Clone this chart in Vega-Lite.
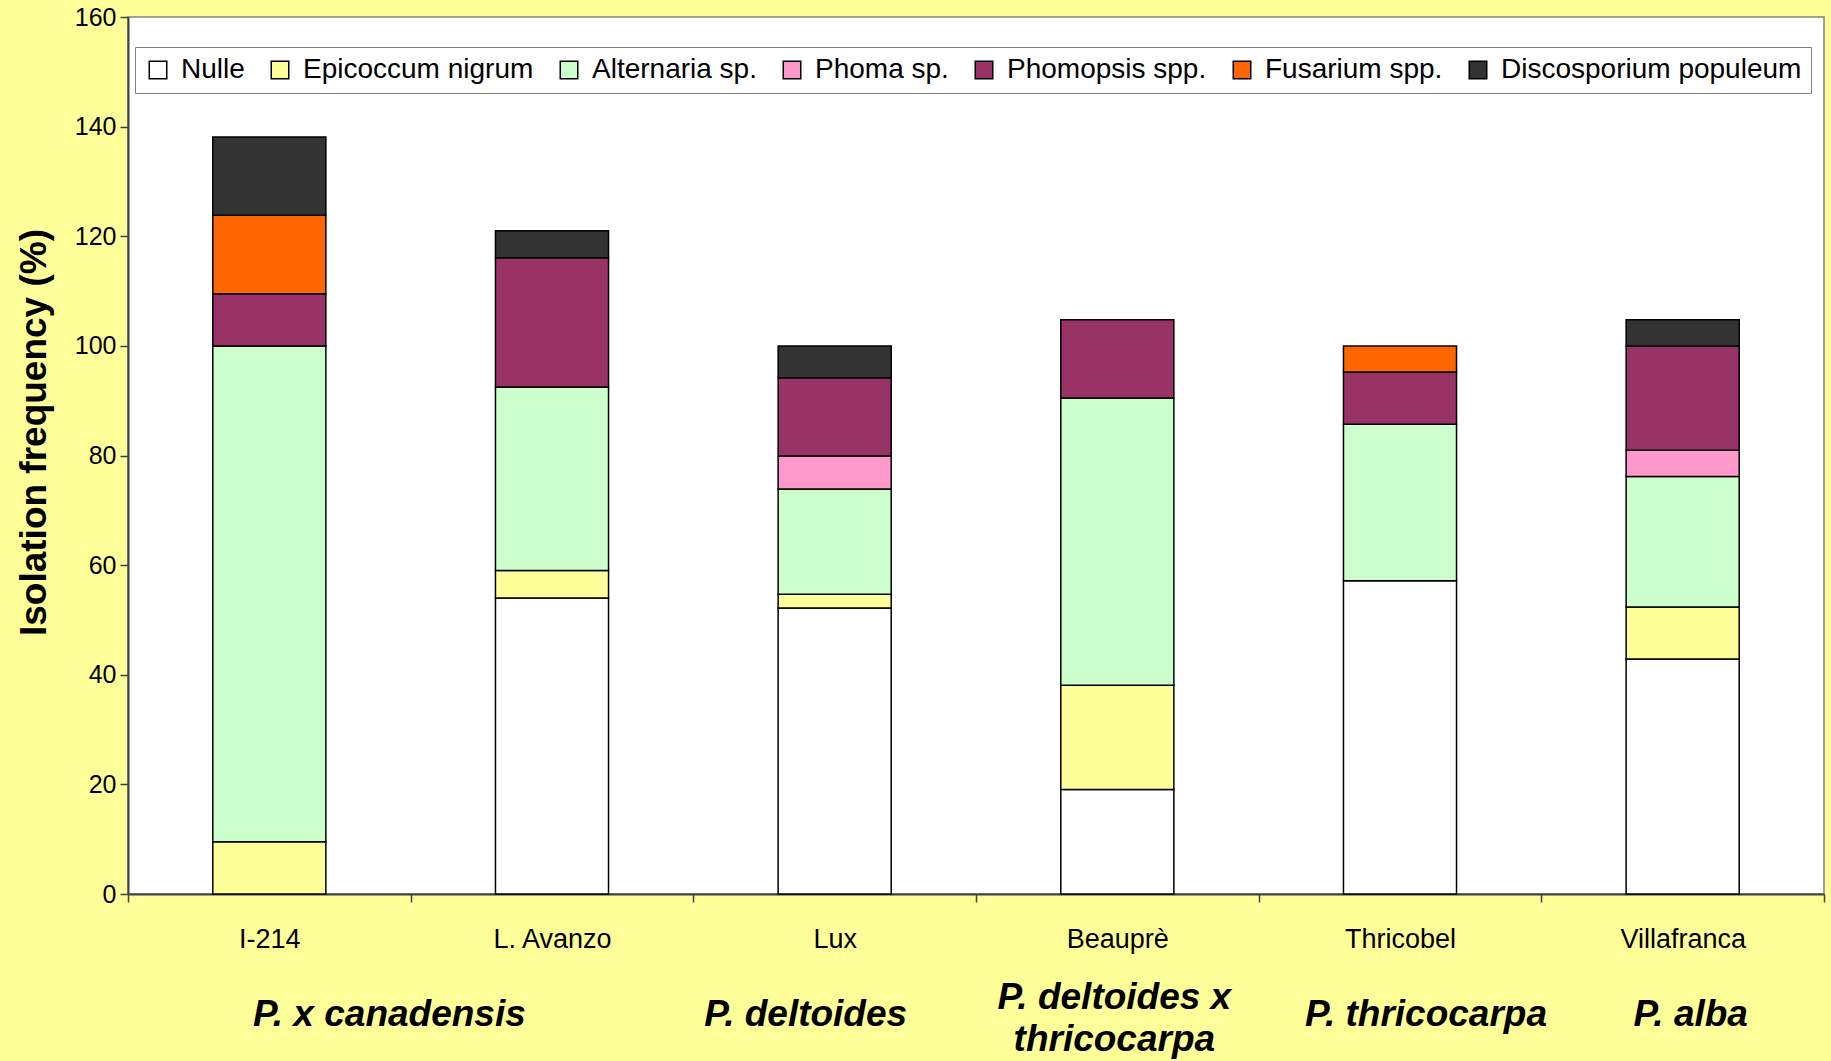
{
  "$schema": "https://vega.github.io/schema/vega-lite/v6.json",
  "width": 1696,
  "height": 877,
  "autosize": {"type": "none"},
  "padding": {"left": 128, "top": 17, "right": 7, "bottom": 167},
  "background": "#FFFF99",
  "config": {
    "view": {"fill": "#FFFFFF", "stroke": "#808080", "strokeWidth": 1.5},
    "font": "Liberation Sans",
    "axis": {"labelFont": "Liberation Sans", "titleFont": "Liberation Sans", "labelColor": "#000000", "titleColor": "#000000", "domainColor": "#404040", "tickColor": "#404040", "domainWidth": 2, "tickWidth": 1.5},
    "text": {"font": "Liberation Sans", "fontWeight": "bold", "fontStyle": "italic", "fontSize": 37, "baseline": "middle", "align": "center", "color": "#000000"}
  },
  "datasets": {
    "iso": [
      {"cultivar": "I-214", "fungus": "Epicoccum nigrum", "k": 2, "value": 9.52},
      {"cultivar": "I-214", "fungus": "Alternaria sp.", "k": 3, "value": 90.48},
      {"cultivar": "I-214", "fungus": "Phomopsis spp.", "k": 5, "value": 9.52},
      {"cultivar": "I-214", "fungus": "Fusarium spp.", "k": 6, "value": 14.29},
      {"cultivar": "I-214", "fungus": "Discosporium populeum", "k": 7, "value": 14.29},
      {"cultivar": "L. Avanzo", "fungus": "Nulle", "k": 1, "value": 54.0},
      {"cultivar": "L. Avanzo", "fungus": "Epicoccum nigrum", "k": 2, "value": 5.0},
      {"cultivar": "L. Avanzo", "fungus": "Alternaria sp.", "k": 3, "value": 33.5},
      {"cultivar": "L. Avanzo", "fungus": "Phomopsis spp.", "k": 5, "value": 23.6},
      {"cultivar": "L. Avanzo", "fungus": "Discosporium populeum", "k": 7, "value": 4.9},
      {"cultivar": "Lux", "fungus": "Nulle", "k": 1, "value": 52.2},
      {"cultivar": "Lux", "fungus": "Epicoccum nigrum", "k": 2, "value": 2.5},
      {"cultivar": "Lux", "fungus": "Alternaria sp.", "k": 3, "value": 19.2},
      {"cultivar": "Lux", "fungus": "Phoma sp.", "k": 4, "value": 6.0},
      {"cultivar": "Lux", "fungus": "Phomopsis spp.", "k": 5, "value": 14.3},
      {"cultivar": "Lux", "fungus": "Discosporium populeum", "k": 7, "value": 5.8},
      {"cultivar": "Beauprè", "fungus": "Nulle", "k": 1, "value": 19.05},
      {"cultivar": "Beauprè", "fungus": "Epicoccum nigrum", "k": 2, "value": 19.05},
      {"cultivar": "Beauprè", "fungus": "Alternaria sp.", "k": 3, "value": 52.38},
      {"cultivar": "Beauprè", "fungus": "Phomopsis spp.", "k": 5, "value": 14.29},
      {"cultivar": "Thricobel", "fungus": "Nulle", "k": 1, "value": 57.14},
      {"cultivar": "Thricobel", "fungus": "Alternaria sp.", "k": 3, "value": 28.57},
      {"cultivar": "Thricobel", "fungus": "Phomopsis spp.", "k": 5, "value": 9.52},
      {"cultivar": "Thricobel", "fungus": "Fusarium spp.", "k": 6, "value": 4.76},
      {"cultivar": "Villafranca", "fungus": "Nulle", "k": 1, "value": 42.86},
      {"cultivar": "Villafranca", "fungus": "Epicoccum nigrum", "k": 2, "value": 9.52},
      {"cultivar": "Villafranca", "fungus": "Alternaria sp.", "k": 3, "value": 23.81},
      {"cultivar": "Villafranca", "fungus": "Phoma sp.", "k": 4, "value": 4.76},
      {"cultivar": "Villafranca", "fungus": "Phomopsis spp.", "k": 5, "value": 19.05},
      {"cultivar": "Villafranca", "fungus": "Discosporium populeum", "k": 7, "value": 4.76}
    ],
    "sp1": [{"cultivar": "I-214", "species": "P. x canadensis"}],
    "sp2": [{"cultivar": "Lux", "species": "P. deltoides"}],
    "sp3": [{"cultivar": "Beauprè", "species": "P. deltoides x|thricocarpa"}],
    "sp4": [{"cultivar": "Thricobel", "species": "P. thricocarpa"}],
    "sp5": [{"cultivar": "Villafranca", "species": "P. alba"}]
  },
  "layer": [
    {
      "data": {"name": "iso"},
      "mark": {"type": "bar", "stroke": "#000000", "strokeWidth": 1.5, "width": {"band": 0.4}},
      "encoding": {
        "x": {
          "field": "cultivar", "type": "nominal",
          "sort": ["I-214", "L. Avanzo", "Lux", "Beauprè", "Thricobel", "Villafranca"],
          "scale": {"domain": ["I-214", "L. Avanzo", "Lux", "Beauprè", "Thricobel", "Villafranca"], "paddingInner": 0, "paddingOuter": 0},
          "axis": {"title": null, "labelAngle": 0, "tickBand": "extent", "labelFontSize": 27, "labelPadding": 24, "tickSize": 8, "labelBaseline": "top"}
        },
        "y": {
          "field": "value", "type": "quantitative", "stack": "zero",
          "scale": {"domain": [0, 160], "nice": false},
          "axis": {"title": "Isolation frequency (%)", "values": [0, 20, 40, 60, 80, 100, 120, 140, 160], "grid": false, "labelFontSize": 25, "labelPadding": 4, "tickSize": 8, "titleFontSize": 37, "titleFontWeight": "bold", "titlePadding": 21, "titleY": 415}
        },
        "color": {
          "field": "fungus", "type": "nominal",
          "sort": ["Nulle", "Epicoccum nigrum", "Alternaria sp.", "Phoma sp.", "Phomopsis spp.", "Fusarium spp.", "Discosporium populeum"],
          "scale": {
            "domain": ["Nulle", "Epicoccum nigrum", "Alternaria sp.", "Phoma sp.", "Phomopsis spp.", "Fusarium spp.", "Discosporium populeum"],
            "range": ["#FFFFFF", "#FFFF99", "#CCFFCC", "#FF99CC", "#993366", "#FF6600", "#333333"]
          },
          "legend": {
            "title": null, "orient": "none", "legendX": 7, "legendY": 30, "direction": "horizontal", "columns": 7,
            "fillColor": "#FFFFFF", "strokeColor": "#808080", "padding": 9,
            "symbolType": "square", "symbolSize": 306, "symbolStrokeColor": "#000000", "symbolStrokeWidth": 1.5, "symbolOpacity": 1,
            "labelFont": "Liberation Sans", "labelFontSize": 28, "labelColor": "#000000", "labelOffset": 9, "labelLimit": 0, "columnPadding": 21
          }
        },
        "order": {"field": "k", "type": "quantitative", "sort": "ascending"}
      }
    },
    {
      "data": {"name": "sp1"},
      "mark": {"type": "text", "dx": 120},
      "encoding": {"x": {"field": "cultivar", "type": "nominal"}, "y": {"datum": -22}, "text": {"field": "species"}}
    },
    {
      "data": {"name": "sp2"},
      "mark": {"type": "text", "dx": -29},
      "encoding": {"x": {"field": "cultivar", "type": "nominal"}, "y": {"datum": -22}, "text": {"field": "species"}}
    },
    {
      "data": {"name": "sp3"},
      "mark": {"type": "text", "dx": -3, "dy": -17, "lineBreak": "|", "lineHeight": 42},
      "encoding": {"x": {"field": "cultivar", "type": "nominal"}, "y": {"datum": -22}, "text": {"field": "species"}}
    },
    {
      "data": {"name": "sp4"},
      "mark": {"type": "text", "dx": 26},
      "encoding": {"x": {"field": "cultivar", "type": "nominal"}, "y": {"datum": -22}, "text": {"field": "species"}}
    },
    {
      "data": {"name": "sp5"},
      "mark": {"type": "text", "dx": 8},
      "encoding": {"x": {"field": "cultivar", "type": "nominal"}, "y": {"datum": -22}, "text": {"field": "species"}}
    }
  ]
}
